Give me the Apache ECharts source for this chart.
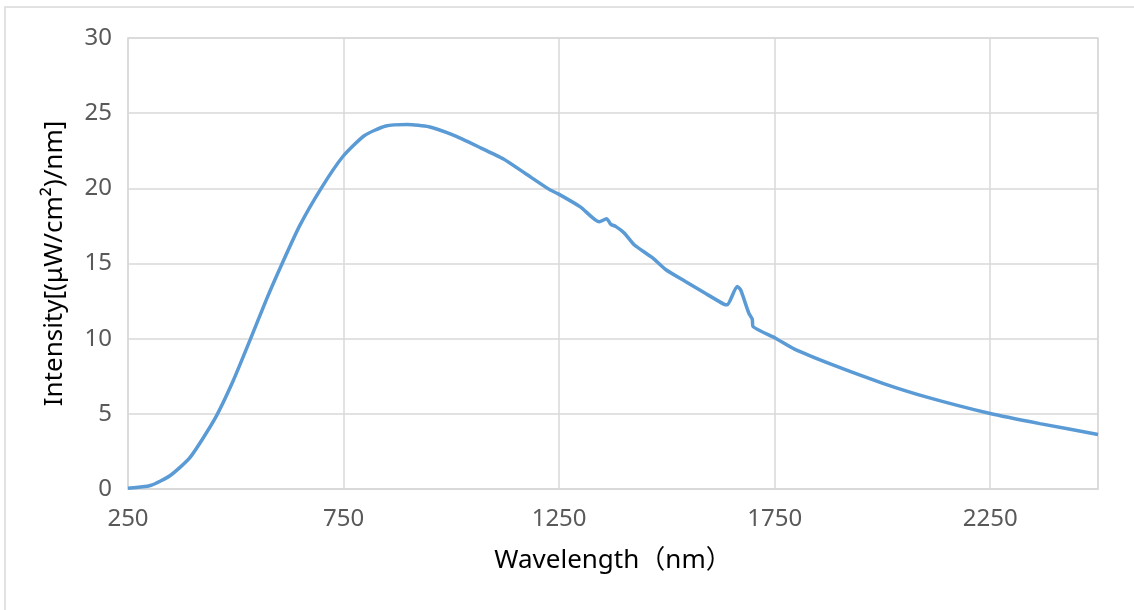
<!DOCTYPE html>
<html>
<head>
<meta charset="utf-8">
<script src="https://cdn.jsdelivr.net/npm/echarts@6/dist/echarts.min.js"></script>
<style>
  html, body { margin: 0; padding: 0; background: #fff; }
  #chart { width: 1134px; height: 610px; }
</style>
</head>
<body>
<div id="chart"></div>
<script>
// wavelength (nm) and intensity
var wavelengths = [250, 302, 348, 394, 452, 494, 533, 571, 606, 648, 698, 748, 798, 848, 898, 948,
  1002, 1064, 1121, 1171, 1227, 1248, 1300, 1343, 1360, 1370, 1381, 1401, 1424, 1467, 1497, 1543,
  1590, 1632, 1640, 1663, 1671, 1690, 1698, 1700, 1752, 1796, 1885, 2001, 2101, 2250, 2365, 2500];
var intensity = [0.05, 0.23, 0.9, 2.1, 4.7, 7.2, 9.9, 12.6, 14.9, 17.5, 20.0, 22.1, 23.5, 24.15, 24.25, 24.1,
  23.57, 22.75, 21.95, 21.0, 19.93, 19.63, 18.75, 17.77, 17.98, 17.6, 17.47, 17.03, 16.25, 15.37, 14.6, 13.8,
  13.0, 12.3, 12.25, 13.47, 13.25, 11.7, 11.3, 10.8, 10.03, 9.3, 8.25, 7.03, 6.13, 5.02, 4.35, 3.63];
var xTitle = 'Wavelength（nm）';
var yTitle = 'Intensity[(μW/cm²)/nm]';

var points = [];
for (var i = 0; i < wavelengths.length; i++) {
    points.push([wavelengths[i], intensity[i]]);
}

var gridColor = '#d9d9d9';
var labelFont = '"Noto Sans", "Noto Sans CJK SC", sans-serif';

var myChart = echarts.init(document.getElementById('chart'));
var option = {
    backgroundColor: '#fff',
    animation: false,
    graphic: [{
        type: 'rect',
        shape: { x: 5, y: 7, width: 1300, height: 800 },
        style: { fill: 'none', stroke: gridColor, lineWidth: 1.5 },
        silent: true
    }],
    grid: {
        left: 128, right: 36, top: 38, bottom: 121,
        show: true, borderColor: gridColor, borderWidth: 1.5
    },
    xAxis: {
        type: 'value',
        min: 250, max: 2500, interval: 500,
        name: xTitle,
        nameLocation: 'middle',
        nameGap: 59,
        nameTextStyle: { color: '#000', fontSize: 26, fontFamily: labelFont },
        axisLine: { show: true, lineStyle: { color: gridColor, width: 1.5 } },
        axisTick: { show: false },
        axisLabel: {
            color: '#595959', fontSize: 24, margin: 18, fontFamily: labelFont, showMaxLabel: false,
            formatter: function (v) { return String(v); }
        },
        splitLine: { show: true, lineStyle: { color: gridColor, width: 1.5 } }
    },
    yAxis: {
        type: 'value',
        min: 0, max: 30, interval: 5,
        name: yTitle,
        nameLocation: 'middle',
        nameGap: 60,
        nameTextStyle: { color: '#000', fontSize: 26, fontFamily: labelFont },
        axisLine: { show: false },
        axisTick: { show: false },
        axisLabel: { color: '#595959', fontSize: 24, margin: 16, fontFamily: labelFont },
        splitLine: { show: true, lineStyle: { color: gridColor, width: 1.5 } }
    },
    series: [{
        type: 'line',
        data: points,
        showSymbol: false,
        smooth: 0.2,
        lineStyle: { color: '#5b9bd5', width: 3.5 },
        itemStyle: { color: '#5b9bd5' }
    }]
};
myChart.setOption(option);
</script>
</body>
</html>
